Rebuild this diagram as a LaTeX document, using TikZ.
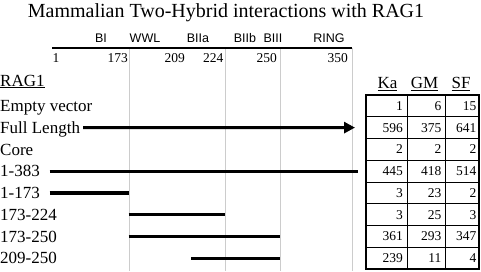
\documentclass[tikz,border=0pt]{standalone}
\usepackage{fontspec}
\setmainfont{Liberation Serif}
\newfontfamily\arialfam{Liberation Sans}
\usetikzlibrary{arrows.meta}
\begin{document}
\begin{tikzpicture}[x=1pt,y=-1pt,
  bar/.style={line width=3.2pt},
  gridline/.style={draw=black!20, line width=0.8pt},
  lbl/.style={anchor=base west, inner sep=0pt, font=\fontsize{17}{17}\selectfont},
  dom/.style={anchor=base, inner sep=0pt, font=\arialfam\fontsize{12.5}{12.5}\selectfont},
  axnum/.style={anchor=base east, inner sep=0pt, font=\fontsize{13.5}{13.5}\selectfont},
  cell/.style={anchor=base east, inner sep=0pt, font=\fontsize{13.5}{13.5}\selectfont},
  hdr/.style={anchor=base, inner sep=0pt, font=\fontsize{17}{17}\selectfont},
]
\useasboundingbox (0,0) rectangle (481,271);

% title
\node[anchor=base, inner sep=0pt, font=\fontsize{20}{20}\selectfont] (title) at (226,17.5) {Mammalian Two-Hybrid interactions with RAG1};

% gray guide lines
\foreach \gx/\gn in {129/ga,225/gb,280/gc,352/gd}{
  \coordinate (\gn top) at (\gx,48);
  \coordinate (\gn bot) at (\gx,271);
  \draw[gridline] (\gn top) -- (\gn bot);
}

% axis
\coordinate (axL) at (52,47.5);
\coordinate (axR) at (352,47.5);
\draw[line width=2pt] (axL) -- (axR);

% domain labels
\node[dom] (dBI) at (101,42.5) {BI};
\node[dom] (dWWL) at (145,42.5) {WWL};
\node[dom] (dBIIa) at (198,42.5) {BIIa};
\node[dom] (dBIIb) at (245,42.5) {BIIb};
\node[dom] (dBIII) at (273,42.5) {BIII};
\node[dom] (dRING) at (329,42.5) {RING};

% axis numbers
\node[axnum, anchor=base west] (n1) at (52.5,62) {1};
\node[axnum] (n173) at (128,62) {173};
\node[axnum] (n209) at (185,62) {209};
\node[axnum] (n224) at (223.5,62) {224};
\node[axnum] (n250) at (277,62) {250};
\node[axnum] (n350) at (348,62) {350};

% left labels
\node[lbl] (rag) at (0,86) {\underline{RAG1}};
\node[lbl] (r1) at (0,111.7) {Empty vector};
\node[lbl] (r2) at (0,133.4) {Full Length};
\node[lbl] (r3) at (0,155.2) {Core};
\node[lbl] (r4) at (0,176.9) {1-383};
\node[lbl] (r5) at (0,198.7) {1-173};
\node[lbl] (r6) at (0,220.4) {173-224};
\node[lbl] (r7) at (0,242.2) {173-250};
\node[lbl] (r8) at (0,263.9) {209-250};

% bars
\coordinate (flend) at (355,127.6);
\draw[bar,-{Triangle[length=11pt,width=11pt]}] ([shift={(3,-5.8)}]r2.base east) -- (flend);
\coordinate (b4a) at (49.5,171.1); \coordinate (b4b) at (357.5,171.1);
\draw[bar] (b4a) -- (b4b);
\coordinate (b5a) at (49.5,192.9); \coordinate (b5b) at (129,192.9);
\draw[bar] (b5a) -- (b5b);
\coordinate (b6a) at (128.5,214.6); \coordinate (b6b) at (225,214.6);
\draw[bar] (b6a) -- (b6b);
\coordinate (b7a) at (128.5,236.4); \coordinate (b7b) at (280,236.4);
\draw[bar] (b7a) -- (b7b);
\coordinate (b8a) at (191,258.1); \coordinate (b8b) at (280,258.1);
\draw[bar] (b8a) -- (b8b);

% table headers
\node[hdr] (hKa) at (387.5,88.5) {\underline{Ka}};
\node[hdr] (hGM) at (424.5,88.5) {\underline{GM}};
\node[hdr] (hSF) at (461,88.5) {\underline{SF}};

% table grid
\foreach \k in {1,...,7}{
  \draw[line width=0.7pt] (366,95+21.75*\k) -- (479,95+21.75*\k);
}
\draw[line width=0.7pt] (407,95) -- (407,269);
\draw[line width=0.7pt] (445,95) -- (445,269);
\draw[line width=1.4pt] (366,95) rectangle (479,269);

% table numbers
\foreach \i/\a/\b/\c in {1/1/6/15, 2/596/375/641, 3/2/2/2, 4/445/418/514, 5/3/23/2, 6/3/25/3, 7/361/293/347, 8/239/11/4}{
  \node[cell] (ka\i) at (403,95+21.75*\i-10.875+4.6) {\a};
  \node[cell] (gm\i) at (441.5,95+21.75*\i-10.875+4.6) {\b};
  \node[cell] (sf\i) at (476.5,95+21.75*\i-10.875+4.6) {\c};
}
\end{tikzpicture}
\end{document}
